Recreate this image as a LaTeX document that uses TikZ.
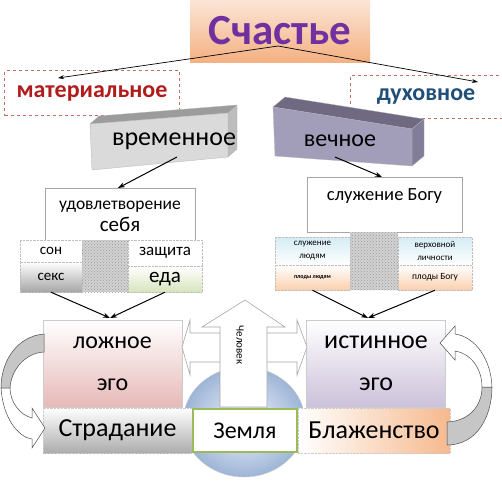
\documentclass[tikz,border=0pt]{standalone}
\usepackage{fontspec}
\setmainfont{Carlito}
\usetikzlibrary{arrows.meta,patterns,positioning,calc}
\definecolor{peachtop}{HTML}{FBE5D6}
\definecolor{peachbot}{HTML}{F4B183}
\definecolor{titlepurple}{HTML}{7030A0}
\definecolor{matred}{HTML}{B01C1C}
\definecolor{duhblue}{HTML}{1F4E79}
\definecolor{tagred}{HTML}{C0705F}
\definecolor{barAtop}{HTML}{9C9C9C}
\definecolor{barAfront}{HTML}{DADADA}
\definecolor{barAside}{HTML}{BDBDBD}
\definecolor{barBtop}{HTML}{6F6A82}
\definecolor{barBfront}{HTML}{A29DB8}
\definecolor{barBside}{HTML}{827D98}
\definecolor{pinkbot}{HTML}{E6B9B8}
\definecolor{lavbot}{HTML}{CCC1DA}
\definecolor{grnbot}{HTML}{D7E4BD}
\definecolor{bluetop}{HTML}{D4ECF4}
\definecolor{orangebot}{HTML}{FBD0AE}
\definecolor{blazhorange}{HTML}{F6B98E}
\definecolor{earth}{HTML}{9DB5D6}
\definecolor{earthgreen}{HTML}{9BBB59}

\begin{document}
\begin{tikzpicture}[x=1pt, y=-1pt,
    titlebox/.style={top color=peachtop, bottom color=peachbot, minimum
      width=180, minimum height=62, text=titlepurple,
      font=\bfseries\fontsize{43}{43}\selectfont},
    tag/.style={draw=tagred, dashed, line width=1pt, inner sep=0pt,
      font=\bfseries\fontsize{24}{24}\selectfont},
    link/.style={line width=1pt, -{Stealth[length=7pt,width=5pt]}},
    thinlink/.style={line width=0.7pt, -{Stealth[length=6pt,width=4pt]}},
    box/.style={draw=gray!70, fill=white, line width=0.6pt, inner sep=0pt},
    cell/.style={draw=gray!50, densely dotted, inner sep=0pt, align=center},
    ego/.style={draw=gray!40, inner sep=0pt, minimum width=139, minimum
      height=87, align=center, font=\fontsize{24}{42}\selectfont},
    strip/.style={draw=gray!40, densely dotted, inner sep=0pt, minimum
      height=45, font=\fontsize{26}{26}\selectfont},
    bigarrow/.style={draw=gray!70, fill=white, line width=0.6pt},
    curvgray/.style={draw=black!70, fill=gray!45, line width=0.5pt},
    curvwhite/.style={draw=black!70, fill=white, line width=0.5pt} ]

    \useasboundingbox (0,0) rectangle (502,480);

    % Title and the two branches
    \node[titlebox] (title) at (280,31) {Счастье};
    \node[tag, text=matred, minimum width=175, minimum height=45] (mat) at
    (92,93) {материальное}; \node[tag, text=duhblue, minimum width=152,
    minimum height=43] (duh) at (426,97) {духовное};
    \coordinate (tsrc) at (278,46); \coordinate (matin) at (58,78);
    \coordinate (duhin) at (478,82);
    \draw[thinlink] (tsrc) -- (matin); \draw[thinlink] (tsrc) -- (duhin);

    % Bars
    \filldraw[fill=barAtop, draw=gray!60, line width=0.3pt] (90,124) --
    (99,116) -- (237,105) -- (228,113) -- cycle; \filldraw[fill=barAside,
    draw=gray!60, line width=0.3pt] (228,113) -- (237,105) -- (237,149) --
    (228,157) -- cycle; \filldraw[fill=barAfront, draw=gray!60, line
    width=0.3pt] (90,124) -- (228,113) -- (228,157) -- (92,170) -- cycle;
    \filldraw[fill=barBtop, draw=gray!60, line width=0.3pt] (273,107) --
    (285,97) -- (424,119) -- (412,129) -- cycle; \filldraw[fill=barBside,
    draw=gray!60, line width=0.3pt] (412,129) -- (424,119) -- (424,156) --
    (412,166) -- cycle; \filldraw[fill=barBfront, draw=gray!60, line
    width=0.3pt] (273,107) -- (412,129) -- (412,166) -- (275,156) -- cycle;
    \node[font=\fontsize{26}{26}\selectfont] (vrem) at (174,141)
    {временное}; \node[font=\fontsize{24}{24}\selectfont] (vech) at
    (340,141) {вечное};

    % Left column
    \node[box, minimum width=150, minimum height=57, align=center,
    font=\fontsize{17.5}{22}\selectfont] (udov) at (120,216.5)
    {удовлетворение\\{\fontsize{21}{22}\selectfont себя}};
    \coordinate (vremout) at (177,157); \coordinate (udovin) at (118,188);
    \draw[link] (vremout) -- (udovin);
    \fill[gray!35] (82,240) rectangle (128,292); \fill[pattern=crosshatch
    dots, pattern color=gray!80] (82,240) rectangle (128,292);
    \node[cell, fill=white, minimum width=62, minimum height=22,
    font=\fontsize{15}{15}\selectfont] (son) at (51,251) {сон};
    \node[cell, top color=white, bottom color=gray!70, minimum width=62,
    minimum height=30, font=\fontsize{15}{15}\selectfont] (seks) at
    (51,277) {секс}; \node[cell, fill=white, minimum width=74, minimum
    height=26, font=\fontsize{17}{17}\selectfont] (zash) at (165,253)
    {защита}; \node[cell, top color=white, bottom color=grnbot, minimum
    width=74, minimum height=26, font=\fontsize{21}{21}\selectfont] (eda) at
    (165,279) {еда};

    % Right column
    \node[box, minimum width=155, minimum height=55, text depth=20pt,
    font=\fontsize{18.5}{18.5}\selectfont] (sluzh) at (384.5,204.5)
    {служение Богу}; \coordinate (vechout) at (335,157); \coordinate
    (sluzhin) at (382,177); \draw[link] (vechout) -- (sluzhin);
    \fill[gray!35] (350,232) rectangle (398,290); \fill[pattern=crosshatch
    dots, pattern color=gray!80] (350,232) rectangle (398,290);
    \node[cell, top color=bluetop, bottom color=white, minimum width=75,
    minimum height=28, font=\fontsize{9}{13}\selectfont] (slud) at
    (312.5,251) {служение\\людям}; \node[cell, top color=white, bottom
    color=orangebot, minimum width=75, minimum height=25,
    font=\bfseries\fontsize{6}{6}\selectfont] (plud) at (312.5,277.5)
    {плоды людям}; \node[cell, top color=bluetop, bottom color=white,
    minimum width=74, minimum height=28, font=\fontsize{9}{13}\selectfont]
    (verh) at (435,251) {верховной\\личности}; \node[cell, top color=white,
    bottom color=orangebot, minimum width=74, minimum height=25,
    font=\fontsize{9.5}{9.5}\selectfont] (plbog) at (435,277.5) {плоды
    Богу};

    % Earth behind everything below
    \shade[inner color=blue!4, outer color=earth] (244,422) ellipse [x
    radius=61, y radius=55]; \draw[gray!40, line width=0.4pt] (244,422)
    ellipse [x radius=61, y radius=55];

    % Egos
    \node[ego, top color=white, bottom color=pinkbot] (lozh) at
    (112.5,363.5) {ложное\\эго}; \node[ego, top color=white, bottom
    color=lavbot, font=\fontsize{26}{42}\selectfont] (istin) at
    (376,363.5) {истинное\\эго};
    \coordinate (lozhin) at (110,318); \coordinate (istinin) at (368,318);
    \draw[link] (seks.south) -- (lozhin); \draw[link] (eda.south) --
    (lozhin); \draw[link] (plud.south) -- (istinin); \draw[link]
    (plbog.south) -- (istinin);

    % Man arrow
    \draw[bigarrow] (182,347) -- (190,320) -- (190,333) -- (297,333) --
    (297,320) -- (307,347) -- (297,375) -- (297,362) -- (190,362) --
    (190,375) -- cycle; \draw[bigarrow] (245,300) -- (285,327) -- (267,327)
    -- (267,407) -- (220,407) -- (220,327) -- (202,327) -- cycle;
    \node[rotate=-90, font=\fontsize{11}{11}\selectfont] (chel) at
    (240,345) {Человек};

    % Bottom row
    \node[strip, minimum width=149, top color=white, bottom color=gray!65]
    (strad) at (117.5,430.5) {Страдание}; \node[strip, minimum width=152,
    left color=white, right color=blazhorange] (blazh) at (374,430.5)
    {Блаженство}; \node[draw=earthgreen, line width=1.8pt, fill=white,
    minimum width=104, minimum height=43, inner sep=0pt,
    font=\fontsize{24}{24}\selectfont] (zemlya) at (245,430.5) {Земля};

    % Curved arrows
    \filldraw[curvgray] (44,334) .. controls (18,336) and (1,360) ..
    (1,388) -- (10,388) .. controls (11,370) and (25,353) .. (44,352) --
    cycle; \filldraw[curvwhite] (1,388) .. controls (3,418) and (18,437) ..
    (32,439) -- (32,448) -- (45,428) -- (32,408) -- (32,418) .. controls
    (20,415) and (10,402) .. (10,388) -- cycle;
    \filldraw[curvgray] (447,445) .. controls (478,445) and (492,415) ..
    (492,387) -- (482,387) .. controls (482,405) and (470,421) .. (447,422)
    -- cycle; \filldraw[curvwhite] (492,387) .. controls (491,360) and
    (476,337) .. (455,334) -- (455,326) -- (440,343) -- (455,360) --
    (455,351) .. controls (470,353) and (482,368) .. (482,387) -- cycle;

\end{tikzpicture}
\end{document}
